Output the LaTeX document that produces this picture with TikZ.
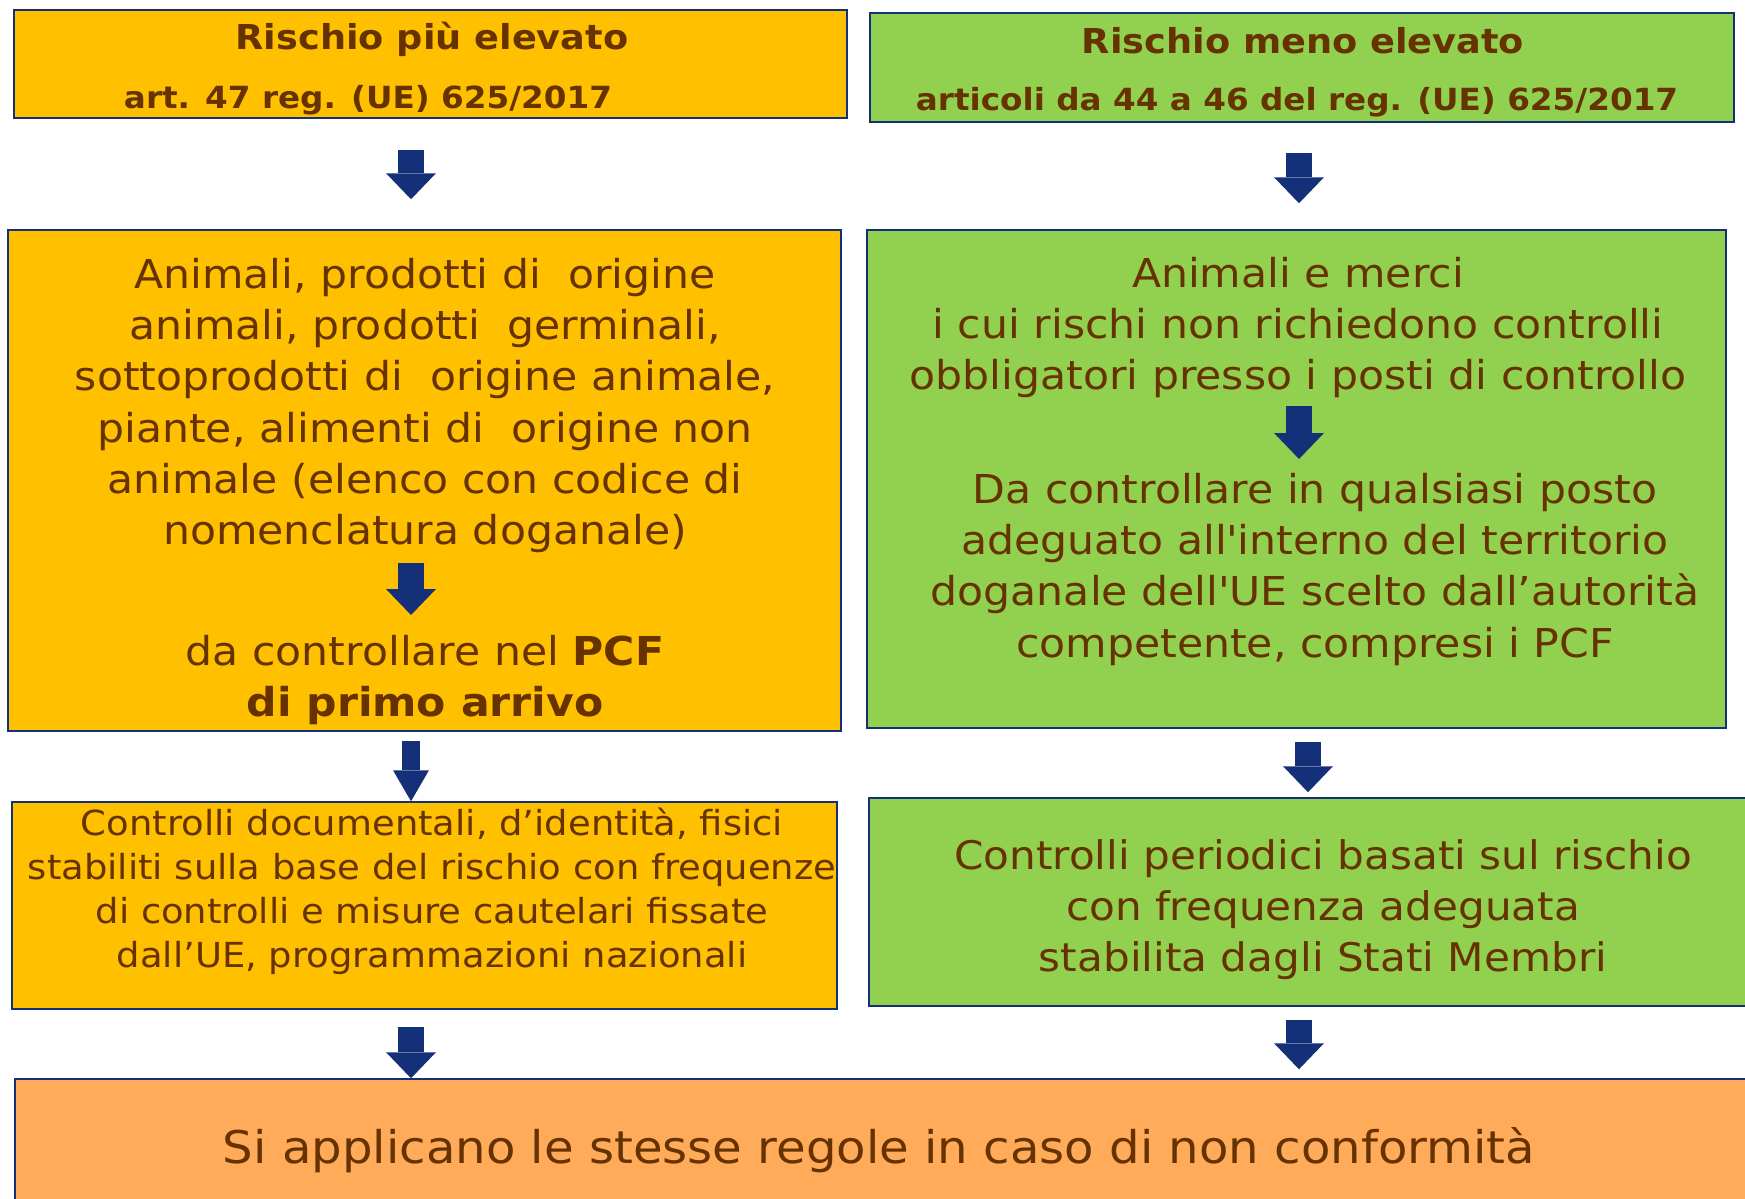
\documentclass[tikz,border=0pt]{standalone}
\usepackage{fontspec}
\setmainfont{DejaVu Sans}[FakeStretch=1.07]
\usetikzlibrary{arrows.meta}
\definecolor{boxorange}{RGB}{255,192,0}
\definecolor{boxgreen}{RGB}{146,208,80}
\definecolor{boxpeach}{RGB}{255,171,89}
\definecolor{txtbrown}{RGB}{102,51,0}
\definecolor{arrowblue}{RGB}{20,48,120}
\newcommand\setfs[2]{\fontsize{#1}{#2}\selectfont}
\tikzset{
  box/.style={draw=arrowblue,line width=1.5pt,inner sep=0pt},
  txt/.style={text=txtbrown,inner sep=0pt,align=center},
  fatarrow/.style={arrowblue,line width=26pt,-{Triangle[width=50pt,length=26pt,line width=0pt]}},
  slimarrow/.style={arrowblue,line width=18pt,-{Triangle[width=36pt,length=31pt,line width=0pt]}}
}

\begin{document}
\begin{tikzpicture}[x=1pt,y=-1pt]
  \useasboundingbox (0,0) rectangle (1745,1199);
  \clip (0,0) rectangle (1745,1199);
  % boxes
  \node[box,fill=boxorange,minimum width=833pt,minimum height=108pt] (hiHead) at (430.5,64) {};
  \node[box,fill=boxgreen,minimum width=864pt,minimum height=109pt] (loHead) at (1302,67.5) {};
  \node[box,fill=boxorange,minimum width=833pt,minimum height=501pt] (hiBox) at (424.5,480.5) {};
  \node[box,fill=boxgreen,minimum width=859pt,minimum height=498pt] (loBox) at (1296.5,479) {};
  \node[box,fill=boxorange,minimum width=825pt,minimum height=207pt] (hiCheck) at (424.5,905.5) {};
  \node[box,fill=boxgreen,minimum width=891pt,minimum height=208pt] (loCheck) at (1314.5,902) {};
  \node[box,fill=boxpeach,minimum width=1745pt,minimum height=131pt] (rules) at (887.5,1144.5) {};
  % texts
  \node[txt,anchor=base,font=\bfseries\setfs{34.3}{41}] (hiTitle) at (432,50) {Rischio più elevato};
  \node[txt,anchor=base,font=\bfseries\setfs{30.5}{36}] (hiRef) at (368,108) {art. 47 reg. (UE) 625/2017};
  \node[txt,anchor=base,font=\bfseries\setfs{34.3}{41}] (loTitle) at (1303,53) {Rischio meno elevato};
  \node[txt,anchor=base,font=\bfseries\setfs{30.5}{36}] (loRef) at (1297,110) {articoli da 44 a 46 del reg. (UE) 625/2017};
  \node[txt,anchor=north,font=\setfs{39.8}{51.2}] (hiGoods) at (425,258)
    {Animali, prodotti di\ \ origine\\animali, prodotti\ \ germinali,\\sottoprodotti di\ \ origine animale,\\
     piante, alimenti di\ \ origine non\\animale (elenco con codice di\\nomenclatura doganale)};
  \node[txt,anchor=north,font=\setfs{39.8}{51.2}] (hiWhere) at (425,635)
    {da controllare nel \textbf{PCF}\\\textbf{di primo arrivo}};
  \node[txt,anchor=north,font=\setfs{39.8}{51.2}] (loGoods) at (1298,257)
    {Animali e merci\\i cui rischi non richiedono controlli\\obbligatori presso i posti di controllo};
  \node[txt,anchor=north,font=\setfs{39.8}{51.2}] (loWhere) at (1315,473)
    {Da controllare in qualsiasi posto\\adeguato all\textquotesingle interno del territorio\\
     doganale dell\textquotesingle UE scelto dall’autorità\\competente, compresi i PCF};
  \node[txt,anchor=north,font=\setfs{34.5}{44}] (hiText) at (432,808)
    {Controlli documentali, d’identità, fisici\\stabiliti sulla base del rischio con frequenze\\
     di controlli e misure cautelari fissate\\dall’UE, programmazioni nazionali};
  \node[txt,anchor=north,font=\setfs{39.4}{51}] (loText) at (1323,839)
    {Controlli periodici basati sul rischio\\con frequenza adeguata\\stabilita dagli Stati Membri};
  \node[txt,anchor=base,font=\setfs{45}{54}] (rulesText) at (879,1163)
    {Si applicano le stesse regole in caso di non conformità};
  % arrows
  \coordinate (xL) at (411,0);
  \coordinate (xR) at (1299,0);
  \coordinate (xR2) at (1308,0);
  \draw[fatarrow,shorten <=31pt,shorten >=30pt] (hiHead.south -| xL) -- (hiBox.north -| xL);
  \draw[fatarrow,shorten <=30pt,shorten >=26pt] (loHead.south -| xR) -- (loBox.north -| xR);
  \draw[fatarrow,shorten <=10pt,shorten >=20pt] (hiGoods.south -| xL) -- (hiWhere.north -| xL);
  \draw[fatarrow,shorten <=8pt,shorten >=14pt] (loGoods.south -| xR) -- (loWhere.north -| xR);
  \draw[slimarrow,shorten <=9pt] (hiBox.south -| xL) -- (hiCheck.north -| xL);
  \draw[fatarrow,shorten <=13pt,shorten >=5pt] (loBox.south -| xR2) -- (loCheck.north -| xR2);
  \draw[fatarrow,shorten <=17pt] (hiCheck.south -| xL) -- (rules.north -| xL);
  \draw[fatarrow,shorten <=13pt,shorten >=9pt] (loCheck.south -| xR) -- (rules.north -| xR);
\end{tikzpicture}
\end{document}
